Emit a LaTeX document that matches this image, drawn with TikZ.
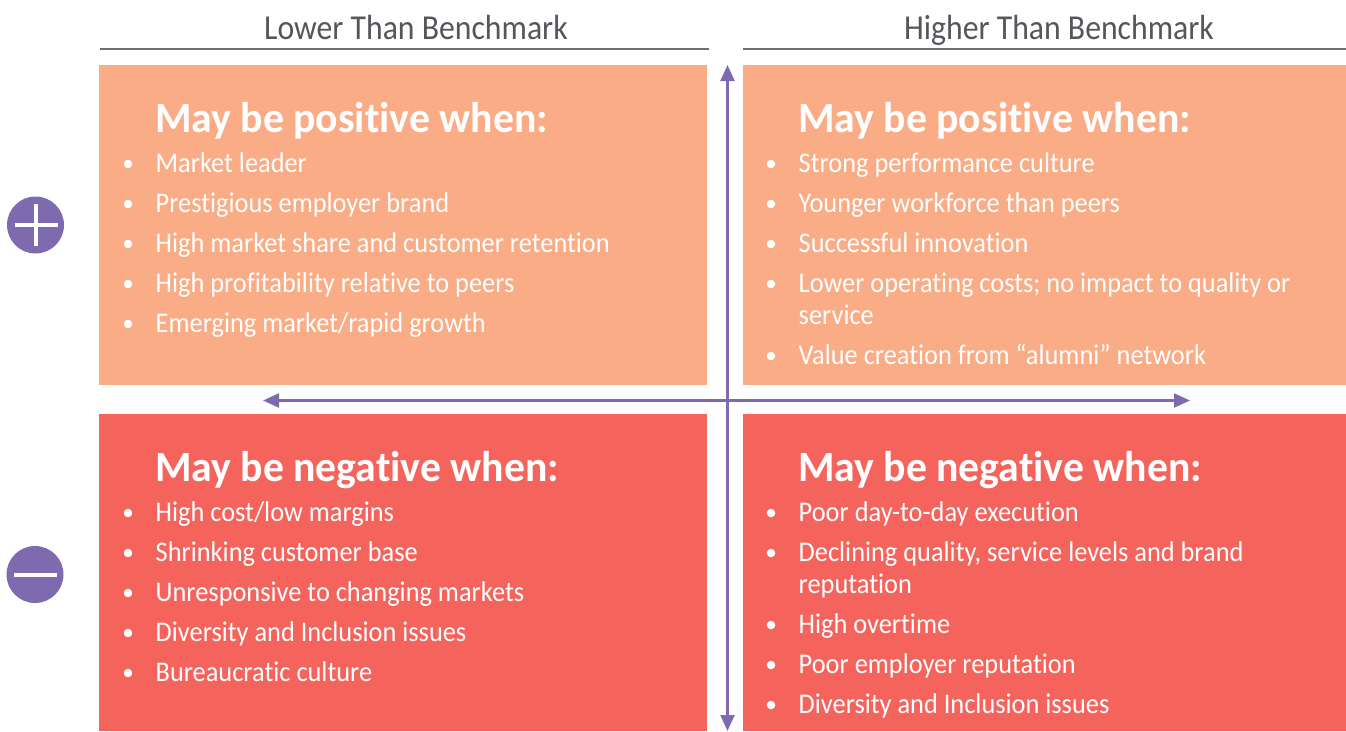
\documentclass[tikz,border=0pt]{standalone}
\usepackage{fontspec}
\setmainfont{Carlito}[Ligatures={NoCommon}]
\newfontfamily\itemfont{Carlito}[FakeStretch=0.925,Ligatures={NoCommon}]
\newfontfamily\headfont{Carlito}[FakeStretch=0.907,Ligatures={NoCommon}]
\newfontfamily\titlefont{Carlito}[Ligatures={NoCommon},BoldFont={Carlito Bold},FakeStretch=0.97]
\usetikzlibrary{arrows.meta}
\definecolor{peach}{HTML}{F9AC85}
\definecolor{coral}{HTML}{F4645C}
\definecolor{violet}{HTML}{7D6AAF}
\definecolor{inkgrey}{HTML}{54565B}
\definecolor{rulegrey}{HTML}{6E6F73}
\tikzset{
  x=1pt,y=-1pt,
  quad/.style={draw=none,inner sep=0pt,outer sep=0pt,anchor=north west},
  headtext/.style={inner sep=0pt,anchor=base,text=inkgrey,font=\headfont\fontsize{35}{35}\selectfont},
  titletext/.style={inner sep=0pt,anchor=base west,text=white,font=\titlefont\fontsize{43}{43}\selectfont\bfseries},
  itemtext/.style={inner sep=0pt,anchor=base west,text=white,font=\itemfont\fontsize{28.5}{28.5}\selectfont},
  bulletdot/.style={circle,fill=white,inner sep=0pt,minimum size=8.5pt},
  headrule/.style={draw=rulegrey,line width=1.3pt},
  axis/.style={draw=violet,line width=2.2pt,{Triangle[length=16pt,width=14pt]}-{Triangle[length=16pt,width=14pt]}},
  badge/.style={circle,fill=violet,inner sep=0pt,minimum size=57pt},
  glyph/.style={draw=white,line width=4pt}
}
\newcommand{\itm}[5]{% name, bullet x, text x, baseline y, text
  \node[bulletdot] (#1b) at (#2,#4-8) {};
  \node[itemtext] (#1) at (#3,#4) {#5};
}
\begin{document}
\begin{tikzpicture}
\useasboundingbox (0,0) rectangle (1346,731);
% quadrant panels
\node[quad,fill=peach,minimum width=608pt,minimum height=320pt] (q1) at (99,65) {};
\node[quad,fill=peach,minimum width=603pt,minimum height=320pt] (q2) at (743,65) {};
\node[quad,fill=coral,minimum width=608pt,minimum height=317pt] (q3) at (99,414) {};
\node[quad,fill=coral,minimum width=603pt,minimum height=317pt] (q4) at (743,414) {};
% headers
\node[headtext] (h1) at (416,39) {Lower Than Benchmark};
\node[headtext] (h2) at (1059,39) {Higher Than Benchmark};
\coordinate (r1a) at (100,49); \coordinate (r1b) at (709,49);
\coordinate (r2a) at (743,49); \coordinate (r2b) at (1346,49);
\draw[headrule] (r1a) -- (r1b);
\draw[headrule] (r2a) -- (r2b);
% axes
\coordinate (vt) at (727.5,65); \coordinate (vb) at (727.5,731);
\coordinate (hl) at (263,400.5); \coordinate (hr) at (1190,400.5);
\draw[axis] (vt) -- (vb);
\draw[axis] (hl) -- (hr);
% badges
\node[badge] (plus) at (35.5,225) {};
\coordinate (pl) at (14.5,225); \coordinate (pr) at (57.5,225);
\coordinate (pt) at (35.5,204); \coordinate (pb) at (35.5,246);
\draw[glyph] (pl) -- (pr);
\draw[glyph] (pt) -- (pb);
\node[badge] (minus) at (35,574.5) {};
\coordinate (ml) at (14,575); \coordinate (mr) at (57,575);
\draw[glyph] (ml) -- (mr);
% top left
\node[titletext] (t1) at (155,132) {May be positive when:};
\itm{a1}{128}{155.5}{172}{Market leader}
\itm{a2}{128}{155.5}{212}{Prestigious employer brand}
\itm{a3}{128}{155.5}{252}{High market share and customer retention}
\itm{a4}{128}{155.5}{292}{High profitability relative to peers}
\itm{a5}{128}{155.5}{332}{Emerging market/rapid growth}
% top right
\node[titletext] (t2) at (798,132) {May be positive when:};
\itm{b1}{771}{798.5}{172}{Strong performance culture}
\itm{b2}{771}{798.5}{212}{Younger workforce than peers}
\itm{b3}{771}{798.5}{252}{Successful innovation}
\itm{b4}{771}{798.5}{292}{Lower operating costs; no impact to quality or}
\node[itemtext] (b4x) at (798.5,324) {service};
\itm{b5}{771}{798.5}{364}{Value creation from “alumni” network}
% bottom left
\node[titletext] (t3) at (155,481) {May be negative when:};
\itm{c1}{128}{155.5}{521}{High cost/low margins}
\itm{c2}{128}{155.5}{561}{Shrinking customer base}
\itm{c3}{128}{155.5}{601}{Unresponsive to changing markets}
\itm{c4}{128}{155.5}{641}{Diversity and Inclusion issues}
\itm{c5}{128}{155.5}{681}{Bureaucratic culture}
% bottom right
\node[titletext] (t4) at (798,481) {May be negative when:};
\itm{d1}{771}{798.5}{521}{Poor day-to-day execution}
\itm{d2}{771}{798.5}{561}{Declining quality, service levels and brand}
\node[itemtext] (d2x) at (798.5,593) {reputation};
\itm{d3}{771}{798.5}{633}{High overtime}
\itm{d4}{771}{798.5}{673}{Poor employer reputation}
\itm{d5}{771}{798.5}{713}{Diversity and Inclusion issues}
\end{tikzpicture}
\end{document}
